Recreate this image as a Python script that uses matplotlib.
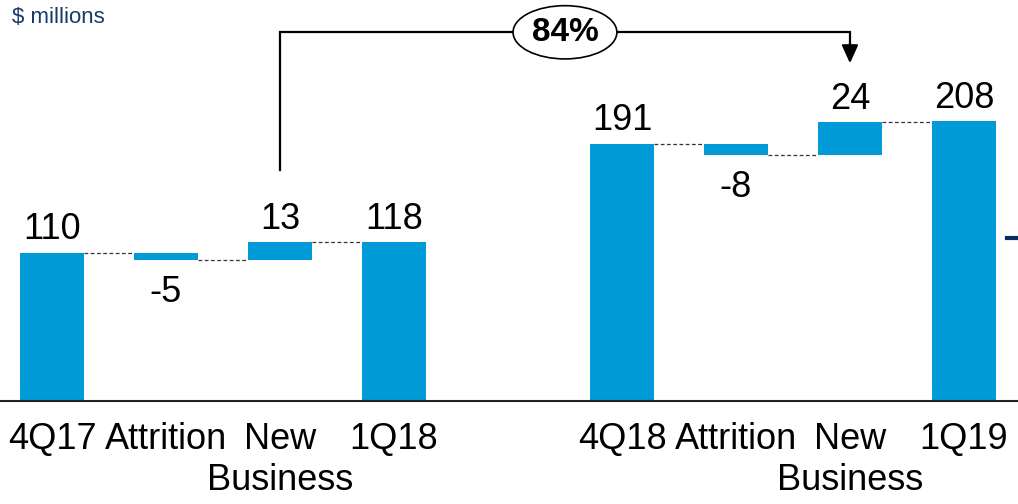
import matplotlib
matplotlib.use("Agg")
import matplotlib.pyplot as plt
from matplotlib.lines import Line2D

plt.rcParams['font.family'] = ['Liberation Sans', 'DejaVu Sans']

# Waterfall data ($ millions)
categories = ["4Q17", "Attrition", "New Business", "1Q18",
              "4Q18", "Attrition", "New Business", "1Q19"]
positions = [0, 1, 2, 3, 5, 6, 7, 8]
values = [110, -5, 13, 118, 191, -8, 24, 208]
is_total = [True, False, False, True, True, False, False, True]
growth_label = "84%"

bar_color = "#009BD6"
width = 0.56

fig = plt.figure(figsize=(10.18, 5.04), dpi=100)
ax = fig.add_axes([0, 1 - 401 / 504, 1, 401 / 504])

# compute bar bottoms / tops
running = 0
bottoms, heights, ends = [], [], []
for v, tot in zip(values, is_total):
    if tot:
        bottoms.append(0)
        heights.append(v)
        running = v
    else:
        bottoms.append(running if v > 0 else running + v)
        heights.append(abs(v))
        running += v
    ends.append(running)

ax.bar(positions, heights, bottom=bottoms, width=width, color=bar_color, zorder=2)

# dashed connectors between consecutive bars within a group
for i in range(len(positions) - 1):
    if positions[i + 1] - positions[i] != 1:
        continue
    ax.plot([positions[i] + width / 2, positions[i + 1] - width / 2], [ends[i], ends[i]],
            ls=(0, (3, 2)), color="#333333", lw=0.9, zorder=1)

# value labels
for x, b, h, v in zip(positions, bottoms, heights, values):
    if v >= 0:
        ax.annotate(str(v), (x, b + h), xytext=(0, 4), textcoords="offset points",
                    ha="center", va="bottom", fontsize=26)
    else:
        ax.annotate(str(v), (x, b), xytext=(0, -11), textcoords="offset points",
                    ha="center", va="top", fontsize=26)

# growth connector
ax.plot([2, 2, 7, 7], [172, 274, 274, 262], color="black", lw=1.6, zorder=3,
        solid_joinstyle="miter")
ax.annotate("", xy=(7, 251), xytext=(7, 266),
            arrowprops=dict(arrowstyle="-|>,head_width=0.5,head_length=1.1",
                            color="black", lw=1.6, shrinkA=0, shrinkB=0))
ax.text(4.5, 274, growth_label, ha="center", va="center", fontsize=24,
        fontweight="bold", zorder=4,
        bbox=dict(boxstyle="ellipse,pad=0.1", fc="white", ec="black", lw=1.2))

# x labels: first word on the tick, second word on its own line below
ax.set_xlim(-0.456, 8.474)
ax.set_ylim(0, 298)
ax.set_xticks(positions)
ax.set_xticklabels([c.split(" ")[0] for c in categories], fontsize=26)
ax.tick_params(axis="x", length=0, pad=15)
for x, c in zip(positions, categories):
    parts = c.split(" ", 1)
    if len(parts) > 1:
        ax.annotate(parts[1], (x, 0), xytext=(0, -45), textcoords="offset points",
                    ha="center", va="top", fontsize=26, annotation_clip=False)
ax.set_yticks([])
for s in ["top", "left", "right"]:
    ax.spines[s].set_visible(False)
ax.spines["bottom"].set_color("#222222")
ax.spines["bottom"].set_linewidth(1.5)

fig.text(0.012, 0.965, "$ millions", fontsize=16, color="#173A6B", va="center", ha="left")
fig.add_artist(Line2D([1007 / 1018, 1.0], [1 - 238 / 504, 1 - 238 / 504],
                      color="#0B2D5B", lw=3))

fig.savefig("out.png", dpi=100)
